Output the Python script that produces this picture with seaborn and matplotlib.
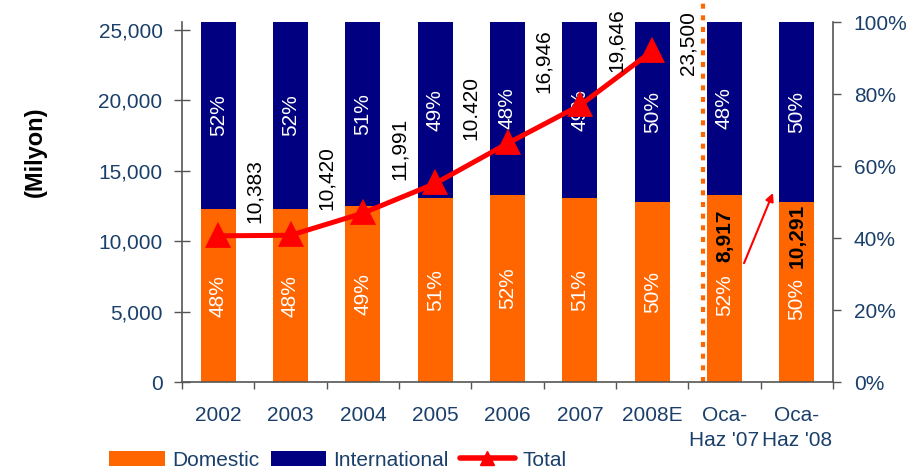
import numpy as np
import pandas as pd
import matplotlib
matplotlib.use("Agg")
import matplotlib.pyplot as plt
import seaborn as sns
from matplotlib.patches import Patch
from matplotlib.lines import Line2D
from matplotlib.ticker import FuncFormatter, FixedLocator

# ---- data ----
categories = ['2002', '2003', '2004', '2005', '2006', '2007', '2008E',
              "Oca-\nHaz '07", "Oca-\nHaz '08"]
domestic_pct = [48, 48, 49, 51, 52, 51, 50, 52, 50]
international_pct = [52, 52, 51, 49, 48, 49, 50, 48, 50]
total_categories = categories[:7]
total_values = [10383, 10420, 11991, 14100, 16946, 19646, 23500]
total_labels = ['10,383', '10,420', '11,991', '10.420', '16,946', '19,646', '23,500']
half_year_labels = ['8,917', '10,291']

# label placement (left-axis units for total labels)
total_label_y = [11300, 12200, 14350, 17200, 20500, 22000, 21800]

ORANGE = '#FF6600'
NAVY = '#000080'
RED = '#FF0000'
TXT = '#1A3F6A'
SPINE = '#555555'

sns.set_theme(style='white')
plt.rcParams['font.family'] = ['Liberation Sans', 'DejaVu Sans']

df = pd.DataFrame({'cat': categories, 'dom': domestic_pct, 'intl': international_pct})
df['stack'] = df['dom'] + df['intl']

fig = plt.figure(figsize=(9.2, 4.7), dpi=100)
ax = fig.add_axes([182 / 920, 88 / 470, 651 / 920, 360 / 470])

sns.barplot(data=df, x='cat', y='stack', order=categories, color=NAVY,
            saturation=1, width=0.48, linewidth=0, ax=ax)
sns.barplot(data=df, x='cat', y='dom', order=categories, color=ORANGE,
            saturation=1, width=0.48, linewidth=0, ax=ax)

FS = 15
for i, (d, n) in enumerate(zip(domestic_pct, international_pct)):
    ax.text(i, d + n / 2, f'{n}%', rotation=90, color='white', fontsize=FS,
            ha='center', va='center')
    if i < 7:
        ax.text(i, d / 2, f'{d}%', rotation=90, color='white', fontsize=FS,
                ha='center', va='center')
    else:
        ax.text(i, d / 2 - 2, f'{d}%', rotation=90, color='white', fontsize=FS,
                ha='center', va='center')
        ax.text(i, 40.5, half_year_labels[i - 7], rotation=90, color='black',
                fontsize=FS, fontweight='bold', ha='center', va='center')

# dotted separator
ax.axvline(6.7, ymin=0, ymax=1.053, color=ORANGE, lw=3.0,
           linestyle=(0, (1.2, 1.6)), clip_on=False, dash_capstyle='butt')

# arrow between half-year bars
ax.annotate('', xy=(7.67, 52.5), xytext=(7.27, 33),
            arrowprops=dict(arrowstyle='-|>', color=RED, lw=1.5, mutation_scale=12,
                            shrinkA=0, shrinkB=0))

ax.set_ylim(0, 100)
ax.set_xlabel('')
ax.set_ylabel('')

# ---- line on left axis ----
ax2 = ax.twinx()
sns.pointplot(x=total_categories, y=total_values, order=categories, color=RED,
              markers='^', errorbar=None, markersize=14, linewidth=3.6, ax=ax2)
for i, (lab, y) in enumerate(zip(total_labels, total_label_y)):
    ax2.text(i + 0.5, y, lab, rotation=90, color='black', fontsize=FS,
             ha='center', va='bottom')

ax2.set_ylim(0, 25000 * 360 / 352)
ax2.set_yticks(range(0, 25001, 5000))
ax2.yaxis.set_major_formatter(FuncFormatter(lambda v, p: f'{int(v):,}'))
ax2.set_ylabel('')
ax2.set_xlabel('')

# percent axis on the right (after twinx, which resets tick sides)
ax.set_yticks(range(0, 101, 20))
ax.yaxis.set_major_formatter(FuncFormatter(lambda v, p: f'{int(v)}%'))
ax.tick_params(axis='y', which='major', right=True, left=False, labelright=True,
               labelleft=False, length=6, width=1, direction='out', pad=9,
               labelsize=FS, labelcolor=TXT, color=SPINE)
ax2.tick_params(axis='y', which='major', left=True, right=False, labelleft=True,
                labelright=False, length=12, width=1, direction='inout', pad=8,
                labelsize=FS, labelcolor=TXT, color=SPINE)

ax.set_xlim(-0.5, 8.5)
ax.set_xticks(range(len(categories)))
ax.set_xticklabels(categories)
ax.xaxis.set_minor_locator(FixedLocator(np.arange(-0.5, 9, 1)))
ax.tick_params(axis='x', which='major', length=0, pad=17, labelsize=FS, labelcolor=TXT)
ax.tick_params(axis='x', which='minor', length=5, width=1, direction='out', color=SPINE, bottom=True)
for lbl in ax.get_xticklabels():
    lbl.set_linespacing(1.45)

for a in (ax, ax2):
    for s in a.spines.values():
        s.set_visible(False)
ax.spines['bottom'].set_visible(True)
ax.spines['right'].set_visible(True)
ax2.spines['left'].set_visible(True)
for s in (ax.spines['bottom'], ax.spines['right'], ax2.spines['left']):
    s.set_color(SPINE)
    s.set_linewidth(1.2)

fig.text(35 / 920, (470 - 152) / 470, '(Milyon)', rotation=90, fontsize=17,
         fontweight='bold', color='black', ha='center', va='center')

handles = [Patch(facecolor=ORANGE, edgecolor='none'),
           Patch(facecolor=NAVY, edgecolor='none'),
           Line2D([0], [0], color=RED, lw=4, marker='^', markersize=10)]
fig.legend(handles, ['Domestic', 'International', 'Total'], loc='center',
           bbox_to_anchor=(338 / 920, 10 / 470), ncol=3, frameon=False,
           fontsize=FS, labelcolor=TXT, handlelength=2.65, handleheight=0.7,
           handletextpad=0.35, columnspacing=0.55, borderpad=0, borderaxespad=0)

fig.savefig('out.png', dpi=100)
